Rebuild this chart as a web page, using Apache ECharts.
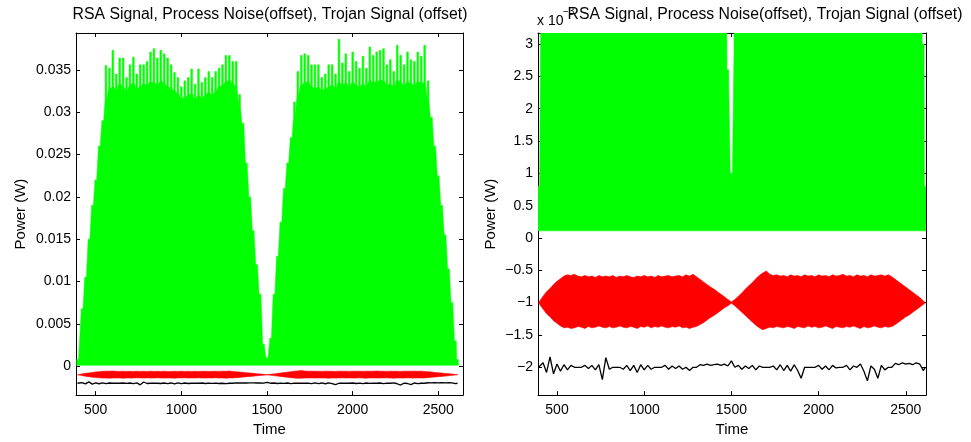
<!DOCTYPE html>
<html>
<head>
<meta charset="utf-8">
<script src="https://cdn.jsdelivr.net/npm/echarts@6/dist/echarts.min.js"></script>
<style>
html,body{margin:0;padding:0;background:#fff;}
#c{width:971px;height:442px;}
</style>
</head>
<body>
<div id="c"></div>
<script>
// ---- DATA (power values in units of 1e-3 W) ----
const times = [
  394, 420, 440, 460, 480, 500, 520, 540, 560, 580,
  600, 620, 640, 660, 680, 700, 720, 740, 760, 780,
  800, 820, 840, 860, 880, 900, 920, 940, 960, 980,
  1000, 1020, 1040, 1060, 1080, 1100, 1120, 1140, 1160, 1180,
  1200, 1220, 1240, 1260, 1280, 1300, 1320, 1340, 1360, 1380,
  1400, 1420, 1440, 1460, 1480, 1500, 1520, 1540, 1560, 1580,
  1600, 1620, 1640, 1660, 1680, 1700, 1720, 1740, 1760, 1780,
  1800, 1820, 1840, 1860, 1880, 1900, 1920, 1940, 1960, 1980,
  2000, 2020, 2040, 2060, 2080, 2100, 2120, 2140, 2160, 2180,
  2200, 2220, 2240, 2260, 2280, 2300, 2320, 2340, 2360, 2380,
  2400, 2420, 2440, 2460, 2480, 2500, 2520, 2540, 2560, 2580,
  2600, 2612
];
// RSA signal: peak heights of the dense trace
const rsaTop = [
  0.8, 6.8, 10.5, 15.0, 19.0, 22.0, 26.0, 29.0, 35.5, 35.2,
  37.3, 34.5, 36.4, 36.4, 34.1, 35.6, 36.5, 34.5, 35.6, 35.6,
  36.0, 37.1, 37.5, 36.4, 37.3, 36.9, 36.4, 35.6, 34.7, 34.1,
  33.0, 33.7, 34.1, 35.1, 33.3, 35.1, 33.5, 34.1, 34.8, 34.1,
  34.8, 35.2, 35.6, 36.7, 36.7, 36.0, 36.0, 32.1, 28.7, 24.0,
  20.0, 16.0, 12.0, 8.5, 2.6, 1.0, 3.3, 8.5, 13.0, 17.0,
  21.0, 24.0, 27.0, 31.2, 34.8, 36.7, 36.9, 36.7, 35.6, 35.6,
  35.6, 34.1, 34.5, 35.6, 35.6, 34.5, 38.6, 35.8, 36.9, 34.8,
  37.1, 36.0, 35.2, 36.6, 35.2, 37.7, 36.7, 37.1, 37.3, 37.5,
  35.6, 36.2, 34.8, 37.9, 36.7, 35.6, 37.1, 36.2, 36.0, 37.1,
  36.6, 37.9, 33.7, 29.4, 26.0, 22.5, 19.0, 15.5, 11.5, 7.5,
  3.0, 0.8
];
// RSA signal: level up to which the trace is solid (between the peaks)
const rsaSolid = [
  0.5, 6.4, 10.1, 14.6, 18.6, 21.6, 25.6, 28.6, 31.5, 32.8,
  33.0, 32.6, 33.4, 33.0, 32.5, 33.2, 33.5, 32.8, 33.0, 33.4,
  33.2, 33.6, 33.5, 33.2, 33.7, 33.4, 33.0, 32.8, 32.5, 32.2,
  31.6, 31.8, 32.0, 32.2, 31.5, 32.0, 31.7, 32.0, 32.4, 32.0,
  32.5, 33.0, 33.2, 33.6, 33.8, 33.4, 33.0, 30.5, 28.3, 23.6,
  19.6, 15.6, 11.6, 8.1, 2.3, 0.8, 2.9, 8.1, 12.6, 16.6,
  20.6, 23.6, 26.6, 29.5, 32.0, 33.2, 33.5, 33.6, 33.0, 32.8,
  33.0, 32.6, 32.8, 33.0, 33.2, 32.8, 33.6, 33.2, 33.5, 33.0,
  33.6, 33.2, 33.0, 33.4, 33.0, 33.8, 33.5, 33.6, 33.8, 33.7,
  33.2, 33.4, 33.0, 33.8, 33.5, 33.2, 33.6, 33.4, 33.2, 33.6,
  33.5, 33.4, 31.5, 29.0, 25.6, 22.1, 18.6, 15.1, 11.1, 7.1,
  2.6, 0.5
];
// RSA signal: lower edge of the dense trace
const rsaFloor = 0.11;
// Process noise (offset): upper and lower envelopes
const noiseTop = [
  -1.00, -0.90, -0.83, -0.78, -0.72, -0.67, -0.63, -0.59, -0.57, -0.58,
  -0.56, -0.59, -0.60, -0.58, -0.60, -0.59, -0.61, -0.58, -0.60, -0.59,
  -0.60, -0.58, -0.61, -0.59, -0.60, -0.58, -0.60, -0.61, -0.59, -0.60,
  -0.58, -0.60, -0.59, -0.61, -0.58, -0.60, -0.59, -0.58, -0.60, -0.59,
  -0.58, -0.60, -0.57, -0.59, -0.56, -0.60, -0.64, -0.68, -0.72, -0.76,
  -0.79, -0.83, -0.87, -0.91, -0.95, -0.99, -0.95, -0.90, -0.85, -0.79,
  -0.74, -0.69, -0.63, -0.58, -0.54, -0.51, -0.56, -0.58, -0.57, -0.59,
  -0.58, -0.60, -0.57, -0.59, -0.58, -0.60, -0.57, -0.59, -0.58, -0.60,
  -0.57, -0.59, -0.58, -0.60, -0.57, -0.59, -0.58, -0.56, -0.59, -0.58,
  -0.60, -0.57, -0.59, -0.58, -0.60, -0.57, -0.59, -0.58, -0.57, -0.59,
  -0.57, -0.60, -0.64, -0.68, -0.72, -0.76, -0.80, -0.84, -0.88, -0.92,
  -0.97, -1.00
];
const noiseBottom = [
  -1.00, -1.10, -1.17, -1.22, -1.28, -1.32, -1.36, -1.39, -1.38, -1.40,
  -1.39, -1.37, -1.38, -1.40, -1.37, -1.39, -1.38, -1.36, -1.38, -1.39,
  -1.37, -1.39, -1.38, -1.36, -1.38, -1.39, -1.37, -1.38, -1.40, -1.37,
  -1.38, -1.36, -1.39, -1.37, -1.38, -1.36, -1.38, -1.39, -1.37, -1.38,
  -1.36, -1.39, -1.38, -1.40, -1.38, -1.37, -1.34, -1.31, -1.27, -1.23,
  -1.20, -1.16, -1.12, -1.08, -1.05, -1.01, -1.05, -1.10, -1.15, -1.20,
  -1.25, -1.30, -1.35, -1.39, -1.42, -1.40, -1.38, -1.39, -1.37, -1.38,
  -1.39, -1.37, -1.38, -1.40, -1.37, -1.38, -1.39, -1.36, -1.38, -1.37,
  -1.39, -1.38, -1.36, -1.38, -1.40, -1.37, -1.38, -1.39, -1.37, -1.38,
  -1.36, -1.38, -1.40, -1.37, -1.39, -1.38, -1.36, -1.38, -1.39, -1.37,
  -1.38, -1.37, -1.34, -1.30, -1.26, -1.22, -1.19, -1.15, -1.11, -1.07,
  -1.03, -1.00
];
// Trojan signal (offset)
const trojan = [
  -2.00, -1.93, -2.08, -1.84, -2.10, -1.95, -2.06, -1.96, -2.04, -1.97,
  -2.00, -2.00, -2.00, -1.97, -2.02, -1.97, -2.04, -1.96, -2.19, -1.85,
  -2.03, -2.00, -2.00, -2.00, -2.03, -1.97, -2.05, -1.97, -2.08, -1.96,
  -2.04, -1.97, -2.03, -2.00, -2.00, -2.00, -1.97, -2.03, -1.98, -2.02,
  -1.98, -2.03, -2.00, -2.05, -2.00, -2.00, -1.96, -1.97, -1.95, -1.97,
  -1.96, -1.95, -1.97, -1.95, -1.98, -1.90, -2.00, -1.97, -2.03, -1.98,
  -2.02, -1.97, -2.04, -1.98, -2.00, -2.00, -2.00, -1.98, -2.04, -1.96,
  -2.05, -1.97, -2.06, -1.96, -2.05, -2.17, -2.00, -2.00, -2.00, -2.00,
  -1.97, -2.03, -1.98, -2.04, -1.97, -2.01, -2.00, -2.00, -1.97, -2.04,
  -1.98, -2.00, -1.95, -2.06, -2.21, -1.98, -2.03, -2.17, -1.97, -2.04,
  -2.00, -2.00, -1.94, -1.96, -1.93, -1.95, -1.94, -1.96, -1.93, -1.95,
  -2.05, -2.00
];
const xTicks = [500, 1000, 1500, 2000, 2500];
const leftYTicks = [0, 5, 10, 15, 20, 25, 30, 35];
const leftYTickLabels = ['0', '0.005', '0.01', '0.015', '0.02', '0.025', '0.03', '0.035'];
const rightYTicks = [-2, -1.5, -1, -0.5, 0, 0.5, 1, 1.5, 2, 2.5, 3];
const rightYTickLabels = ['\u22122', '\u22121.5', '\u22121', '\u22120.5', '0', '0.5', '1', '1.5', '2', '2.5', '3'];
const titleText = 'RSA Signal, Process Noise(offset), Trojan Signal (offset)';

// ---- CHART ----
const FONT = '"Liberation Sans", Arial, Helvetica, sans-serif';
const chart = echarts.init(document.getElementById('c'), null, {renderer: 'canvas'});

const panels = [
  {grid: {left: 76, top: 33, width: 387, height: 367}, xMin: 385, xMax: 2644, yMin: -3.4, yMax: 39.35,
   yTicks: leftYTicks, yLabels: leftYTickLabels, nameGap: 48},
  {grid: {left: 538, top: 33, width: 388, height: 367}, xMin: 391, xMax: 2616, yMin: -2.43, yMax: 3.17,
   yTicks: rightYTicks, yLabels: rightYTickLabels, nameGap: 40}
];

const SPIKE_HALF = 5; // half width of a peak, in Time units

const grids = [], xAxes = [], yAxes = [], series = [];
const lineBlack = {show: true, onZero: false, lineStyle: {color: '#000', width: 1}};

panels.forEach((p, k) => {
  grids.push(p.grid);
  const tickStyle = {show: true, inside: true, length: 4, lineStyle: {color: '#000', width: 1}};
  xAxes.push({
    type: 'value', gridIndex: k, min: p.xMin, max: p.xMax, position: 'bottom',
    axisLine: lineBlack, splitLine: {show: false},
    axisTick: Object.assign({customValues: xTicks}, tickStyle),
    axisLabel: {customValues: xTicks, color: '#000', fontSize: 14, fontFamily: FONT, margin: 8,
      formatter: (v) => String(v)},
    name: 'Time', nameLocation: 'middle', nameGap: 23,
    nameTextStyle: {color: '#000', fontSize: 15, fontFamily: FONT}
  });
  xAxes.push({
    type: 'value', gridIndex: k, min: p.xMin, max: p.xMax, position: 'top',
    axisLine: lineBlack, splitLine: {show: false},
    axisTick: Object.assign({customValues: xTicks}, tickStyle),
    axisLabel: {show: false}
  });
  yAxes.push({
    type: 'value', gridIndex: k, min: p.yMin, max: p.yMax, position: 'left',
    axisLine: lineBlack, splitLine: {show: false},
    axisTick: Object.assign({customValues: p.yTicks}, tickStyle),
    axisLabel: {customValues: p.yTicks, color: '#000', fontSize: 14, fontFamily: FONT, margin: 5,
      formatter: (v) => { const i = p.yTicks.indexOf(v); return i >= 0 ? p.yLabels[i] : ''; }},
    name: 'Power (W)', nameLocation: 'middle', nameGap: p.nameGap, nameRotate: 90,
    nameTextStyle: {color: '#000', fontSize: 15, fontFamily: FONT}
  });
  yAxes.push({
    type: 'value', gridIndex: k, min: p.yMin, max: p.yMax, position: 'right',
    axisLine: lineBlack, splitLine: {show: false},
    axisTick: Object.assign({customValues: p.yTicks}, tickStyle),
    axisLabel: {show: false}
  });

  // Dense RSA trace: solid body up to rsaSolid, thin peaks up to rsaTop
  series.push({
    type: 'custom', xAxisIndex: 2 * k, yAxisIndex: 2 * k, z: 2, silent: true, animation: false,
    data: times.map((t, i) => [t, rsaFloor, rsaSolid[i], rsaTop[i]]),
    encode: {x: 0, y: [1, 3]},
    renderItem: (params, api) => {
      if (params.dataIndex !== 0) return null;
      const pts = [];
      for (let i = 0; i < times.length; i++) {
        const t = times[i];
        pts.push(api.coord([t - SPIKE_HALF, rsaSolid[i]]));
        pts.push(api.coord([t - SPIKE_HALF, rsaTop[i]]));
        pts.push(api.coord([t + SPIKE_HALF, rsaTop[i]]));
        pts.push(api.coord([t + SPIKE_HALF, rsaSolid[i]]));
      }
      pts.push(api.coord([times[times.length - 1] + SPIKE_HALF, rsaFloor]));
      pts.push(api.coord([times[0] - SPIKE_HALF, rsaFloor]));
      const cs = params.coordSys;
      return {
        type: 'polygon', shape: {points: pts},
        style: {fill: '#00ff00', stroke: '#00ff00', lineWidth: 0.5},
        clipPath: {type: 'rect', shape: {x: cs.x, y: cs.y, width: cs.width, height: cs.height}}
      };
    }
  });
  // Process noise band
  series.push({
    type: 'custom', xAxisIndex: 2 * k, yAxisIndex: 2 * k, z: 3, silent: true, animation: false,
    data: times.map((t, i) => [t, noiseBottom[i], noiseTop[i]]),
    encode: {x: 0, y: [1, 2]},
    renderItem: (params, api) => {
      if (params.dataIndex !== 0) return null;
      const pts = [];
      for (let i = 0; i < times.length; i++) pts.push(api.coord([times[i], noiseTop[i]]));
      for (let i = times.length - 1; i >= 0; i--) pts.push(api.coord([times[i], noiseBottom[i]]));
      const cs = params.coordSys;
      return {
        type: 'polygon', shape: {points: pts},
        style: {fill: '#ff0000', stroke: '#ff0000', lineWidth: 0.6},
        clipPath: {type: 'rect', shape: {x: cs.x, y: cs.y, width: cs.width, height: cs.height}}
      };
    }
  });
  series.push({
    type: 'line', xAxisIndex: 2 * k, yAxisIndex: 2 * k, z: 4, silent: true, animation: false,
    data: times.map((t, i) => [t, trojan[i]]),
    showSymbol: false, symbol: 'none', clip: true,
    lineStyle: {color: '#000', width: 1.3}
  });
});

chart.setOption({
  backgroundColor: '#fff',
  animation: false,
  grid: grids, xAxis: xAxes, yAxis: yAxes, series: series,
  graphic: [
    {type: 'text', x: 537, y: 21, z: 10,
     style: {text: 'x 10', font: '14px ' + FONT, fill: '#000', align: 'left', verticalAlign: 'middle', textAlign: 'left', textVerticalAlign: 'middle'}},
    {type: 'text', x: 563, y: 12, z: 10,
     style: {text: '\u22123', font: '10px ' + FONT, fill: '#000', align: 'left', verticalAlign: 'middle', textAlign: 'left', textVerticalAlign: 'middle'}},
    {type: 'text', x: 270, y: 15, z: 11,
     style: {text: titleText, font: '15.8px ' + FONT, fill: '#000', align: 'center', verticalAlign: 'middle', textAlign: 'center', textVerticalAlign: 'middle'}},
    {type: 'text', x: 765, y: 15, z: 11,
     style: {text: titleText, font: '15.8px ' + FONT, fill: '#000', align: 'center', verticalAlign: 'middle', textAlign: 'center', textVerticalAlign: 'middle'}}
  ]
});
</script>
</body>
</html>
